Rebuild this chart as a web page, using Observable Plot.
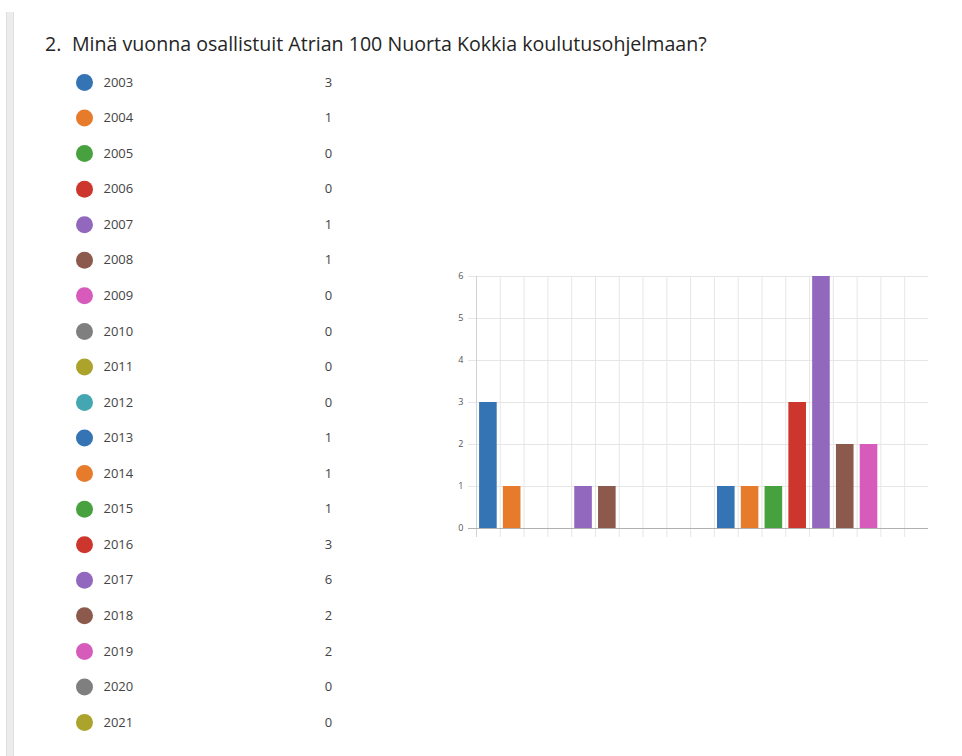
<!DOCTYPE html>
<html>
<head>
<meta charset="utf-8">
<script src="https://cdn.jsdelivr.net/npm/d3@7"></script>
<script src="https://cdn.jsdelivr.net/npm/@observablehq/plot@0.6"></script>
<style>
  html, body { margin: 0; padding: 0; background: #fff; width: 962px; height: 756px; overflow: hidden; font-family: "Open Sans", sans-serif; }
  #border { position: absolute; left: 6px; top: 12px; width: 6px; bottom: 0; background: #ececec; border-left: 1px solid #e0e0e0; border-right: 1px solid #e0e0e0; }
  .title { position: absolute; top: 32px; font-size: 19.6px; line-height: 24px; color: #252525; white-space: nowrap; }
  #num { left: 45px; }
  #q { left: 72px; }
  #legend { position: absolute; left: 60px; top: 60px; }
  #chart { position: absolute; left: 440px; top: 250px; }
</style>
</head>
<body>
<div id="border"></div>
<div id="num" class="title"></div>
<div id="q" class="title"></div>
<div id="legend"></div>
<div id="chart"></div>
<script>
const titleNumber = "2.";
const titleText = "Minä vuonna osallistuit Atrian 100 Nuorta Kokkia koulutusohjelmaan?";
const years = ["2003","2004","2005","2006","2007","2008","2009","2010","2011","2012",
               "2013","2014","2015","2016","2017","2018","2019","2020","2021"];
const counts = [3,1,0,0,1,1,0,0,0,0,1,1,1,3,6,2,2,0,0];
const palette = ["#3473b4","#e67b2b","#48a13f","#cd362c","#9268bf","#8b5a4c","#d65bbb","#7f7f7f","#aba32c","#43a6b1"];
const yTicks = [0,1,2,3,4,5,6];

document.getElementById("num").textContent = titleNumber;
document.getElementById("q").textContent = titleText;

const rows = years.map((year, i) => ({year, count: counts[i]}));
const colorScale = {type: "ordinal", domain: years, range: years.map((d, i) => palette[i % palette.length])};

// Legend list
const legend = Plot.plot({
  width: 300, height: 690, margin: 0,
  y: {type: "point", domain: years, range: [22, 662], padding: 0, round: false, axis: null},
  color: colorScale,
  style: {fontFamily: "Open Sans", background: "transparent", overflow: "visible"},
  marks: [
    Plot.dot(rows, {y: "year", fill: "year", r: 8.5, frameAnchor: "left", dx: 24}),
    Plot.text(rows, {y: "year", text: "year", frameAnchor: "left", dx: 43, textAnchor: "start", fontSize: 13, fill: "#444"}),
    Plot.text(rows, {y: "year", text: d => String(d.count), frameAnchor: "left", dx: 268, textAnchor: "middle", fontSize: 13, fill: "#444"})
  ]
});
document.getElementById("legend").appendChild(legend);

// Bar chart
const W = 510, H = 300, mL = 36, mR = 22, mT = 26, mB = 22;
const step = (W - mL - mR) / years.length;
const chart = Plot.plot({
  width: W, height: H, marginLeft: mL, marginRight: mR, marginTop: mT, marginBottom: mB,
  x: {type: "band", domain: years, paddingInner: 0.26, paddingOuter: 0.13, round: false, axis: null},
  y: {domain: [0, 6], label: null, axis: null},
  color: colorScale,
  style: {fontFamily: "Open Sans", background: "transparent", overflow: "visible"},
  marks: [
    Plot.ruleY(yTicks.filter(d => d > 0), {stroke: "#e6e6e6", insetLeft: -8}),
    Plot.ruleX(years, {x: d => d, dx: -step / 2, stroke: "#e6e6e6", insetBottom: -9}),
    Plot.ruleX(years.slice(0, 1), {x: d => d, dx: -step / 2, stroke: "#d2d2d2", insetBottom: -9}),
    Plot.barY(rows, {x: "year", y: "count", fill: "year"}),
    Plot.ruleY([0], {stroke: "#b0b0b0", insetLeft: -8}),
    Plot.axisY({ticks: yTicks, tickSize: 0, tickPadding: 13, tickFormat: d => String(d), fontSize: 9, fill: "#555", label: null})
  ]
});
document.getElementById("chart").appendChild(chart);
</script>
</body>
</html>
